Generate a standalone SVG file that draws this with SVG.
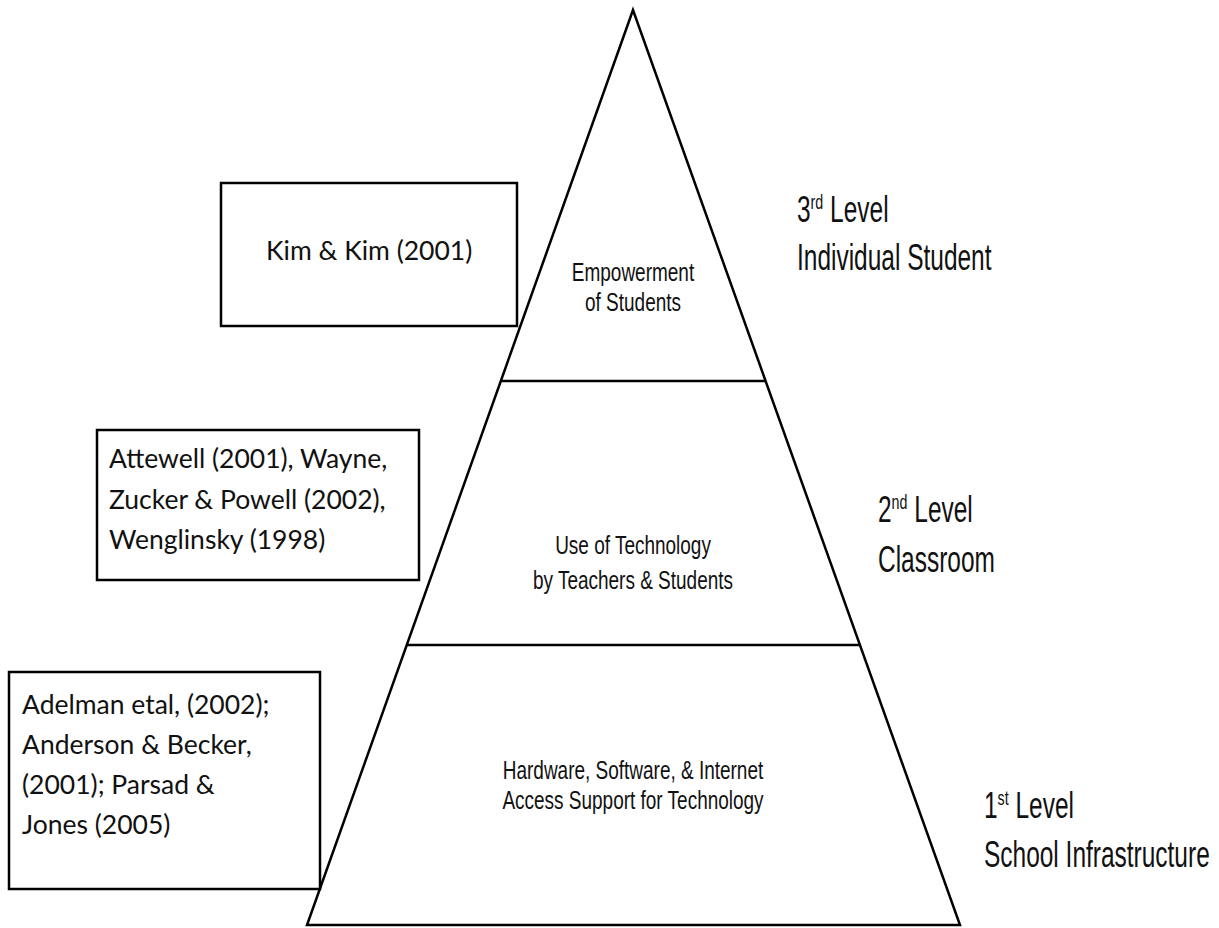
<svg xmlns="http://www.w3.org/2000/svg" width="1219" height="928" viewBox="0 0 1219 928">
<style>
.box{fill:#fff;stroke:#000;stroke-width:2.5}
.ref{font-family:Lato,"Open Sans",sans-serif;font-size:26.5px;fill:#111}
.pyr{font-family:"Liberation Sans",Arial,sans-serif;font-size:26px;fill:#111;text-anchor:middle}
.lvl{font-family:"Liberation Sans",Arial,sans-serif;font-size:36px;fill:#111}
.sup{font-size:21px}
.line{fill:none;stroke:#000;stroke-width:2.5}
</style>
<rect width="1219" height="928" fill="#fff"/>
<g id="pyramid">
<path class="line" d="M633,10 L307,925 L960,925 Z"/>
<line class="line" x1="502" y1="381" x2="765" y2="381"/>
<line class="line" x1="406" y1="645" x2="860" y2="645"/>
</g>
<g id="tier3">
<text class="pyr" transform="translate(633,281) scale(0.73,1)">Empowerment</text>
<text class="pyr" transform="translate(633,311) scale(0.73,1)">of Students</text>
</g>
<g id="tier2">
<text class="pyr" transform="translate(633,554) scale(0.73,1)">Use of Technology</text>
<text class="pyr" transform="translate(633,589) scale(0.73,1)">by Teachers &amp; Students</text>
</g>
<g id="tier1">
<text class="pyr" transform="translate(633,779) scale(0.73,1)">Hardware, Software, &amp; Internet</text>
<text class="pyr" transform="translate(633,809) scale(0.73,1)">Access Support for Technology</text>
</g>
<g id="level3">
<text class="lvl" transform="translate(797,222) scale(0.68,1)">3<tspan class="sup" dy="-13">rd</tspan><tspan dy="13"> Level</tspan></text>
<text class="lvl" transform="translate(797,270) scale(0.68,1)">Individual Student</text>
</g>
<g id="level2">
<text class="lvl" transform="translate(878,522) scale(0.68,1)">2<tspan class="sup" dy="-13">nd</tspan><tspan dy="13"> Level</tspan></text>
<text class="lvl" transform="translate(878,572) scale(0.68,1)">Classroom</text>
</g>
<g id="level1">
<text class="lvl" transform="translate(984,818) scale(0.68,1)">1<tspan class="sup" dy="-13">st</tspan><tspan dy="13"> Level</tspan></text>
<text class="lvl" transform="translate(984,867) scale(0.68,1)">School Infrastructure</text>
</g>
<g id="box-kim">
<rect class="box" x="221" y="183" width="296" height="143"/>
<text class="ref" x="266" y="260">Kim &amp; Kim (2001)</text>
</g>
<g id="box-attewell">
<rect class="box" x="97" y="430" width="322" height="150"/>
<text class="ref" x="109" y="468">Attewell (2001), Wayne,</text>
<text class="ref" x="109" y="509">Zucker &amp; Powell (2002),</text>
<text class="ref" x="109" y="549">Wenglinsky (1998)</text>
</g>
<g id="box-adelman">
<rect class="box" x="9" y="672" width="311" height="217"/>
<text class="ref" x="22" y="714">Adelman etal, (2002);</text>
<text class="ref" x="22" y="754">Anderson &amp; Becker,</text>
<text class="ref" x="22" y="794">(2001); Parsad &amp;</text>
<text class="ref" x="22" y="834">Jones (2005)</text>
</g>
</svg>
